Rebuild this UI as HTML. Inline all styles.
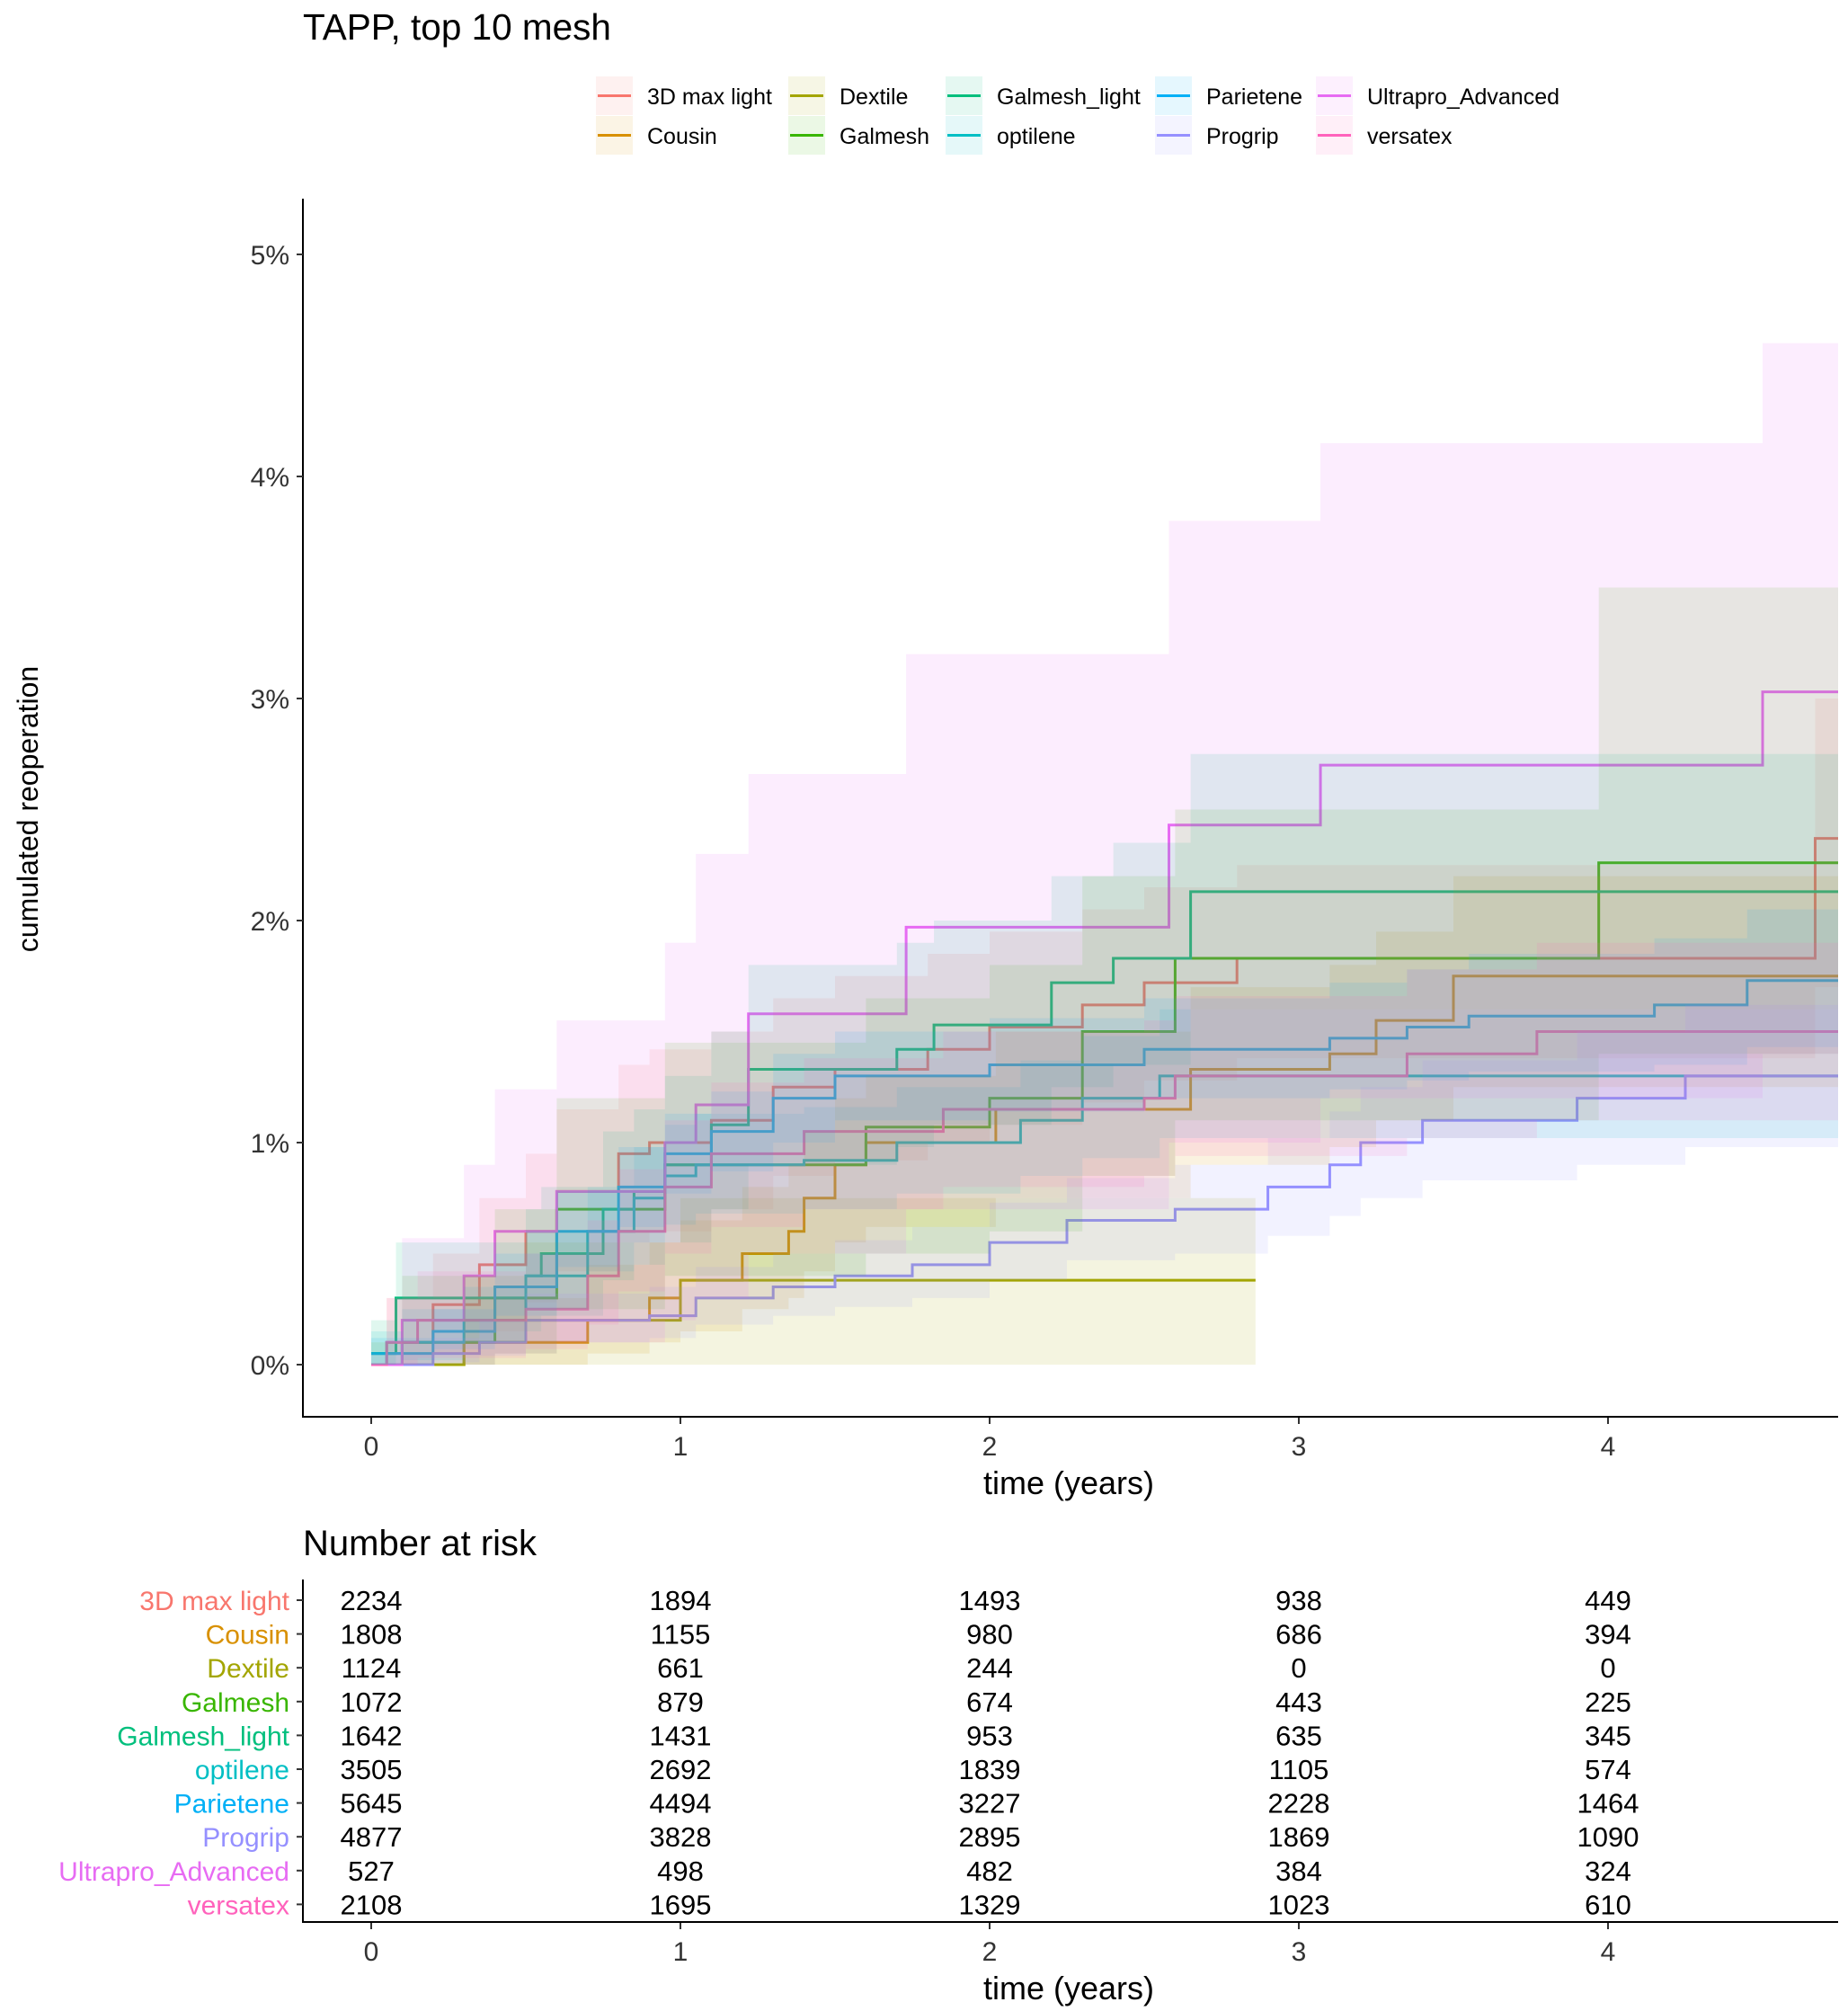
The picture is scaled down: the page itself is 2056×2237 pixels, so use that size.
<!DOCTYPE html>
<html><head><meta charset="utf-8"><style>
html,body{margin:0;padding:0;background:#fff;}
svg{display:block;font-family:"Liberation Sans",Arial,sans-serif;}
</style></head><body>
<svg id="chart" width="2056" height="2237" viewBox="0 0 2056 2237" xmlns="http://www.w3.org/2000/svg">
<text x="337" y="44" font-size="40.5" fill="#000">TAPP, top 10 mesh</text>
<g id="legend"></g>
<defs><clipPath id="pc"><rect x="337" y="221" width="1708" height="1355"/></clipPath></defs>
<g id="lines" clip-path="url(#pc)"></g>
<g id="bands" clip-path="url(#pc)"></g>
<g id="axes"></g>
<text transform="translate(42,900) rotate(-90)" text-anchor="middle" font-size="32" fill="#000">cumulated reoperation</text>
<text x="1189" y="1662" text-anchor="middle" font-size="36" fill="#000">time (years)</text>
<text x="337" y="1730" font-size="40" fill="#000">Number at risk</text>
<g id="risk"></g>
<text x="1189" y="2224" text-anchor="middle" font-size="36" fill="#000">time (years)</text>
</svg>
<script>
const names = ["3D max light","Cousin","Dextile","Galmesh","Galmesh_light","optilene","Parietene","Progrip","Ultrapro_Advanced","versatex"];
const colors = ["#F8766D","#D89000","#A3A500","#39B600","#00BF7D","#00BFC4","#00B0F6","#9590FF","#E76BF3","#FF62BC"];
const endTimes = [4.75,4.75,2.86,4.75,4.75,4.75,4.75,4.75,4.75,4.75];
const times = [
 [0,0.05,0.2,0.35,0.5,0.6,0.8,0.9,1.1,1.3,1.5,1.8,2.0,2.3,2.5,2.8,4.67],
 [0,0.3,0.7,0.9,1.0,1.2,1.35,1.4,1.5,1.6,2.02,2.65,3.1,3.25,3.5],
 [0,0.3,0.5,1.0],
 [0,0.1,0.4,0.6,0.95,1.6,2.0,2.3,2.6,3.97],
 [0,0.08,0.5,0.55,0.75,0.85,0.95,1.1,1.22,1.7,1.82,2.2,2.4,2.65],
 [0,0.1,0.3,0.5,0.7,0.85,0.95,1.05,1.4,1.7,2.1,2.3,2.55],
 [0,0.2,0.4,0.6,0.8,0.95,1.1,1.3,1.5,2.0,2.5,3.1,3.35,3.55,4.15,4.45],
 [0,0.2,0.35,0.5,0.9,1.05,1.3,1.5,1.75,2.0,2.25,2.6,2.9,3.1,3.2,3.4,3.9,4.25],
 [0,0.1,0.3,0.4,0.6,0.95,1.05,1.22,1.73,2.58,3.07,4.5],
 [0,0.05,0.15,0.5,0.7,0.8,0.95,1.1,1.4,1.85,2.5,2.6,3.35,3.77]
];
const estimates = [
 [0,0.1,0.27,0.45,0.6,0.78,0.95,1.0,1.1,1.25,1.33,1.42,1.52,1.62,1.72,1.83,2.37],
 [0,0.1,0.2,0.3,0.38,0.5,0.6,0.75,0.9,1.0,1.15,1.33,1.4,1.55,1.75],
 [0,0.1,0.2,0.38],
 [0,0.1,0.3,0.7,0.9,1.07,1.2,1.5,1.83,2.26],
 [0.05,0.3,0.4,0.5,0.7,0.78,0.9,1.08,1.33,1.42,1.53,1.72,1.83,2.13],
 [0.05,0.1,0.2,0.4,0.6,0.75,0.85,0.9,0.92,1.0,1.1,1.2,1.3],
 [0.05,0.15,0.35,0.6,0.8,0.95,1.05,1.2,1.3,1.35,1.42,1.47,1.52,1.57,1.62,1.73],
 [0,0.05,0.1,0.2,0.22,0.3,0.35,0.4,0.45,0.55,0.65,0.7,0.8,0.9,1.0,1.1,1.2,1.3],
 [0,0.2,0.4,0.6,0.78,1.0,1.17,1.58,1.97,2.43,2.7,3.03],
 [0,0.1,0.2,0.25,0.4,0.6,0.8,0.95,1.05,1.15,1.2,1.3,1.4,1.5]
];
const uppers = [
 [0,0.3,0.5,0.75,0.95,1.15,1.35,1.42,1.5,1.65,1.75,1.85,1.95,2.05,2.15,2.25,3.0],
 [0,0.3,0.45,0.55,0.65,0.8,0.9,1.05,1.2,1.3,1.5,1.7,1.8,1.95,2.2],
 [0.1,0.4,0.55,0.75],
 [0,0.4,0.7,1.2,1.45,1.65,1.8,2.2,2.5,3.5],
 [0.2,0.55,0.7,0.8,1.05,1.15,1.3,1.5,1.8,1.9,2.0,2.2,2.35,2.75],
 [0.15,0.25,0.35,0.6,0.8,0.98,1.08,1.13,1.16,1.25,1.37,1.48,1.6],
 [0.12,0.25,0.5,0.78,0.98,1.13,1.23,1.4,1.5,1.56,1.65,1.72,1.78,1.85,1.92,2.05],
 [0.05,0.12,0.2,0.32,0.35,0.44,0.5,0.56,0.62,0.73,0.84,0.9,1.02,1.14,1.25,1.37,1.5,1.62],
 [0,0.57,0.9,1.24,1.55,1.9,2.3,2.66,3.2,3.8,4.15,4.6],
 [0,0.3,0.42,0.5,0.65,0.88,1.1,1.27,1.38,1.5,1.55,1.66,1.78,1.9]
];
const lowers = [
 [0,0,0.05,0.15,0.28,0.42,0.55,0.6,0.7,0.85,0.92,1.0,1.08,1.18,1.28,1.38,1.7],
 [0,0,0.05,0.1,0.15,0.25,0.3,0.42,0.55,0.62,0.75,0.9,0.98,1.1,1.25],
 [0,0,0,0],
 [0,0,0.05,0.25,0.4,0.5,0.6,0.85,1.1,1.4],
 [0,0.1,0.15,0.22,0.38,0.45,0.55,0.7,0.9,0.98,1.08,1.25,1.35,1.6],
 [0,0.02,0.1,0.25,0.42,0.55,0.63,0.68,0.7,0.77,0.85,0.93,1.02],
 [0,0.07,0.22,0.44,0.62,0.77,0.87,1.0,1.1,1.14,1.2,1.24,1.28,1.32,1.35,1.43],
 [0,0.01,0.04,0.1,0.12,0.18,0.22,0.26,0.3,0.38,0.47,0.5,0.58,0.67,0.75,0.83,0.9,0.98],
 [0,0,0,0.05,0.1,0.2,0.3,0.5,0.7,1.0,1.2,1.4],
 [0,0,0.03,0.07,0.18,0.33,0.5,0.62,0.7,0.8,0.85,0.94,1.02,1.1]
];
const xTicks = [0,1,2,3,4];
const yTicks = [0,1,2,3,4,5];
const yTickLabels = ["0%","1%","2%","3%","4%","5%"];
const riskCounts = [
 [2234,1894,1493,938,449],
 [1808,1155,980,686,394],
 [1124,661,244,0,0],
 [1072,879,674,443,225],
 [1642,1431,953,635,345],
 [3505,2692,1839,1105,574],
 [5645,4494,3227,2228,1464],
 [4877,3828,2895,1869,1090],
 [527,498,482,384,324],
 [2108,1695,1329,1023,610]
];

const NS="http://www.w3.org/2000/svg";
const X = t => 413 + t*344;
const Y = v => 1518 - v*247;
function mk(tag, attrs, parent){const e=document.createElementNS(NS,tag);for(const k in attrs)e.setAttribute(k,attrs[k]);parent.appendChild(e);return e;}
const bands=document.getElementById('bands'), lines=document.getElementById('lines'), axes=document.getElementById('axes'), legend=document.getElementById('legend'), risk=document.getElementById('risk');

function stepPts(t, v, end){let p=[];for(let i=0;i<t.length;i++){const x0=X(t[i]),x1=X(i+1<t.length?t[i+1]:end);p.push([x0,Y(v[i])],[x1,Y(v[i])]);}return p;}

for(let s=0;s<names.length;s++){
  const up=stepPts(times[s],uppers[s],endTimes[s]);
  const lo=stepPts(times[s],lowers[s],endTimes[s]).reverse();
  const b=mk('polygon',{points:up.concat(lo).map(p=>p.join(',')).join(' '),fill:colors[s],'fill-opacity':'0.12',stroke:'none'},bands);
  
  
}
for(let s=0;s<names.length;s++){
  const pts=stepPts(times[s],estimates[s],endTimes[s]);
  const l=mk('polyline',{points:pts.map(p=>p.join(',')).join(' '),fill:'none',stroke:colors[s],'stroke-width':'3'},lines);
  
  
}
mk('line',{x1:337,y1:221,x2:337,y2:1577,stroke:'#000','stroke-width':2},axes);
mk('line',{x1:336,y1:1576,x2:2045,y2:1576,stroke:'#000','stroke-width':2},axes);
yTicks.forEach((v,i)=>{
  mk('line',{x1:330,y1:Y(v),x2:337,y2:Y(v),stroke:'#333','stroke-width':2},axes);
  const t=mk('text',{x:322,y:Y(v)+11,'text-anchor':'end','font-size':30,fill:'#333'},axes);
  t.textContent=yTickLabels[i];
  
  
});
xTicks.forEach(v=>{
  mk('line',{x1:X(v),y1:1577,x2:X(v),y2:1584,stroke:'#333','stroke-width':2},axes);
  const t=mk('text',{x:X(v),y:1619,'text-anchor':'middle','font-size':30,fill:'#333'},axes);
  t.textContent=String(v);
  
  
});
const colX=[663,877,1052,1285,1464];
for(let s=0;s<names.length;s++){
  const c=Math.floor(s/2), r=s%2;
  const x=colX[c], y=85+r*44;
  const g=mk('g',{},legend);
  
  
  mk('rect',{x:x,y:y,width:41,height:43,fill:colors[s],'fill-opacity':'0.1'},g);
  mk('line',{x1:x+2,y1:y+21.5,x2:x+39,y2:y+21.5,stroke:colors[s],'stroke-width':3},g);
  const t=mk('text',{x:x+57,y:y+31,'font-size':25,fill:'#000'},g);
  t.textContent=names[s];
}
mk('line',{x1:337,y1:1757,x2:337,y2:2139,stroke:'#000','stroke-width':2},risk);
mk('line',{x1:336,y1:2138,x2:2045,y2:2138,stroke:'#000','stroke-width':2},risk);
for(let s=0;s<names.length;s++){
  const y=1780+s*37.6;
  mk('line',{x1:330,y1:y,x2:337,y2:y,stroke:'#333','stroke-width':2},risk);
  const lab=mk('text',{x:322,y:y+11,'text-anchor':'end','font-size':30,fill:colors[s]},risk);
  lab.textContent=names[s];
  
  
  xTicks.forEach((tk,j)=>{
    const t=mk('text',{x:X(tk),y:y+11,'text-anchor':'middle','font-size':31,fill:'#000'},risk);
    t.textContent=String(riskCounts[s][j]);
    
    
  });
}
xTicks.forEach(v=>{
  mk('line',{x1:X(v),y1:2139,x2:X(v),y2:2146,stroke:'#333','stroke-width':2},risk);
  const t=mk('text',{x:X(v),y:2181,'text-anchor':'middle','font-size':30,fill:'#333'},risk);
  t.textContent=String(v);
  
  
});
</script>
</body></html>
